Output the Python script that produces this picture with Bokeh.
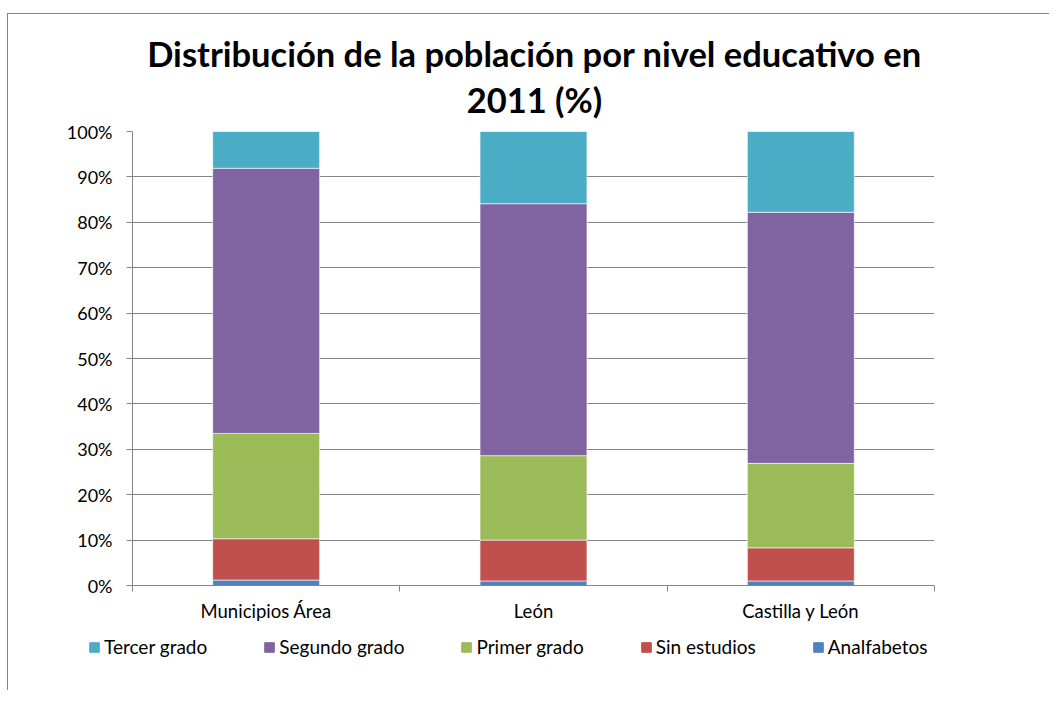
from bokeh.plotting import figure
from bokeh.layouts import column
from bokeh.models import (Range1d, FixedTicker, Legend, LegendItem, ColumnDataSource, Label)
from bokeh.embed import file_html
from bokeh.resources import INLINE

title_lines = ["Distribución de la población por nivel educativo en", "2011 (%)"]
categories = ["Municipios Área", "León", "Castilla y León"]
analfabetos = [1.2, 1.0, 1.0]
sin_estudios = [9.1, 9.0, 7.3]
primer_grado = [23.2, 18.6, 18.6]
segundo_grado = [58.4, 55.5, 55.3]
tercer_grado = [8.1, 15.9, 17.8]

series = ["Analfabetos", "Sin estudios", "Primer grado", "Segundo grado", "Tercer grado"]
colors = ["#4F81BD", "#C0504D", "#9BBB59", "#8064A2", "#4BACC6"]
y_ticks = list(range(0, 101, 10))

xs = [i + 0.5 for i in range(len(categories))]
src = ColumnDataSource(dict(x=xs, **{
    "Analfabetos": analfabetos, "Sin estudios": sin_estudios,
    "Primer grado": primer_grado, "Segundo grado": segundo_grado,
    "Tercer grado": tercer_grado}))

FONT = "Lato"
GRID = "#868686"
BL, FW, BR = 124, 802, 115
W = BL + FW + BR


def strip(h):
    f = figure(output_backend="svg", toolbar_location=None,
               x_range=Range1d(0, W), y_range=Range1d(0, h),
               frame_width=W, frame_height=h,
               min_border_left=0, min_border_right=0, min_border_top=0, min_border_bottom=0)
    f.axis.visible = False
    f.grid.visible = False
    f.outline_line_color = None
    return f


# title strip
TH = 105
p0 = strip(TH)
for txt, yy in zip(title_lines, [66, 20]):
    p0.add_layout(Label(x=FW / 2 + 1, y=yy, text=txt, text_align="center", text_baseline="middle",
                        text_font=FONT, text_font_size="34.5px", text_font_style="bold",
                        text_color="black"))

# main chart
p = figure(output_backend="svg", toolbar_location=None,
           x_range=Range1d(0, len(categories)), y_range=Range1d(0, 100),
           frame_width=FW, frame_height=454,
           min_border_left=BL, min_border_top=12, min_border_right=BR, min_border_bottom=45)
p.outline_line_color = None

p.vbar_stack(series, x="x", width=0.4, source=src, color=colors,
             line_color="white", line_alpha=0.6, line_width=1)

p.xaxis.ticker = FixedTicker(ticks=xs, minor_ticks=list(range(len(categories) + 1)))
p.xaxis.major_label_overrides = {x: c for x, c in zip(xs, categories)}
p.xaxis.major_tick_out = 0
p.xaxis.major_tick_in = 0
p.xaxis.minor_tick_out = 6
p.xaxis.minor_tick_in = 0
p.xaxis.minor_tick_line_color = GRID
p.xaxis.axis_line_color = GRID
p.xaxis.major_label_standoff = 8
p.xaxis.major_label_text_font = FONT
p.xaxis.major_label_text_font_size = "18.5px"
p.xaxis.major_label_text_color = "black"

p.yaxis.ticker = FixedTicker(ticks=y_ticks)
p.yaxis.major_label_overrides = {v: f"{v}%" for v in y_ticks}
p.yaxis.major_tick_out = 6
p.yaxis.major_tick_in = 0
p.yaxis.minor_tick_line_color = None
p.yaxis.major_tick_line_color = GRID
p.yaxis.axis_line_color = GRID
p.yaxis.major_label_standoff = 14
p.yaxis.major_label_text_font = FONT
p.yaxis.major_label_text_font_size = "18px"
p.yaxis.major_label_text_color = "black"

p.xgrid.grid_line_color = None
p.ygrid.grid_line_color = GRID
p.ygrid.grid_line_width = 1

# legend strip below the chart
LH = 60
p2 = strip(LH)
hidden = p2.vbar_stack(series, x="x", width=0.4, source=src, color=colors, visible=False)

order = [4, 3, 2, 1, 0]
items = [LegendItem(label=series[i], renderers=[hidden[i]]) for i in order]
legend = Legend(items=items, orientation="horizontal", location=(80, 32),
                glyph_width=12, glyph_height=12, label_standoff=4, spacing=56,
                padding=0, margin=0, border_line_alpha=0, background_fill_alpha=0,
                inactive_fill_alpha=0,
                label_text_font=FONT, label_text_font_size="19px", label_text_color="black")
p2.add_layout(legend)

layout = column(p0, p, p2, spacing=0, margin=(13, 0, 0, 7),
                styles={"border-top": "1px solid #868686", "border-left": "1px solid #868686"})

open("out.html", "w").write(file_html(layout, INLINE))
